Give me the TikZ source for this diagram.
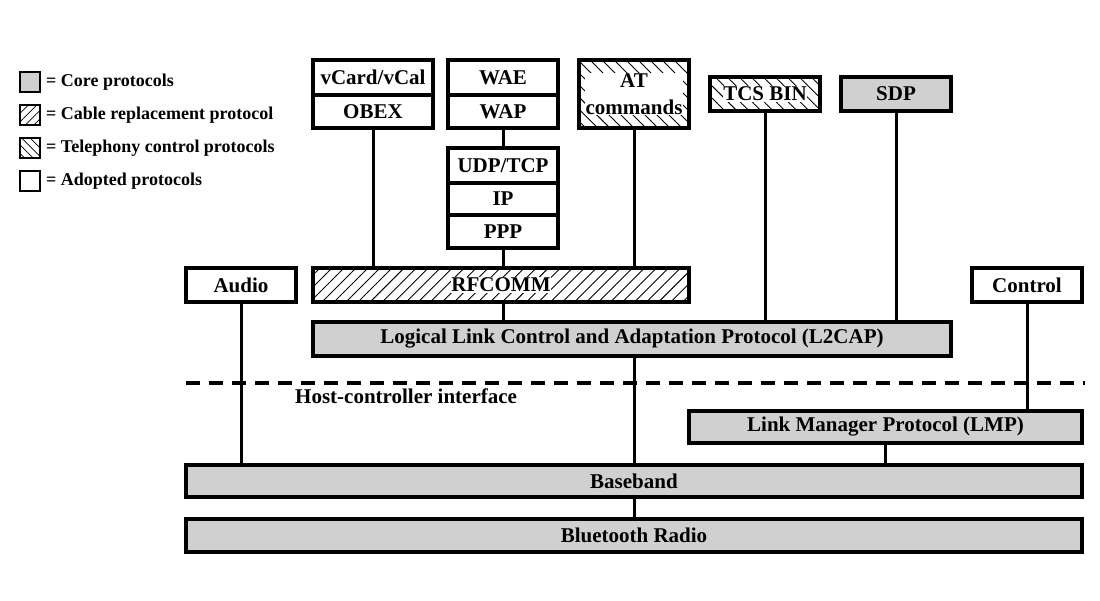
\documentclass[tikz,border=0pt]{standalone}
\usepackage{fontspec}
\setmainfont{Liberation Serif}
\usetikzlibrary{patterns.meta}
\definecolor{coregray}{HTML}{D0D0D0}
\begin{document}
\begin{tikzpicture}[x=1pt,y=-1pt,
  box/.style={draw, line width=3.2pt, inner sep=0pt, font=\fontsize{21}{22}\selectfont\bfseries, align=center},
  core/.style={box, fill=coregray},
  cable/.style={box, pattern={Lines[angle=45, distance=8.5pt, line width=0.9pt]}},
  tele/.style={box, pattern={Lines[angle=-45, distance=8.5pt, line width=0.9pt]}},
  lbl/.style={fill=white, inner sep=0.5pt},
  conn/.style={line width=3pt},
  legbox/.style={draw, line width=1.4pt, minimum width=20pt, minimum height=20pt, inner sep=0pt},
  legtxt/.style={anchor=west, font=\fontsize{18}{19}\selectfont\bfseries, inner sep=0pt},
  hci/.style={line width=3.5pt, dash pattern=on 14pt off 9pt}
]
\useasboundingbox (0,0) rectangle (1100,600);

% legend
\node[legbox, fill=coregray] (lg1) at (30,82) {};
\node[legtxt] (lt1) at (46,82) {= Core protocols};
\node[legbox, pattern={Lines[angle=45, distance=6pt, line width=0.7pt]}] (lg2) at (30,115) {};
\node[legtxt] (lt2) at (46,115) {= Cable replacement protocol};
\node[legbox, pattern={Lines[angle=-45, distance=6pt, line width=0.7pt]}] (lg3) at (30,148) {};
\node[legtxt] (lt3) at (46,148) {= Telephony control protocols};
\node[legbox] (lg4) at (30,181) {};
\node[legtxt] (lt4) at (46,181) {= Adopted protocols};

% top stacks
\node[box, minimum width=120pt, minimum height=35pt] (vcard) at (373,77.5) {vCard/vCal};
\node[box, minimum width=120pt, minimum height=33pt] (obex) at (373,111.5) {OBEX};
\node[box, minimum width=110pt, minimum height=35pt] (wae) at (503,77.5) {WAE};
\node[box, minimum width=110pt, minimum height=33pt] (wap) at (503,111.5) {WAP};
\node[tele, minimum width=110pt, minimum height=68pt] (at) at (634,94) {};
\node[lbl, font=\fontsize{21}{27}\selectfont\bfseries, align=center] (attxt) at (at.center) {AT\\commands};
\node[tele, minimum width=110pt, minimum height=34pt] (tcs) at (765,94) {};
\node[lbl, font=\fontsize{21}{22}\selectfont\bfseries] (tcstxt) at (tcs.center) {TCS BIN};
\node[core, minimum width=110pt, minimum height=34pt] (sdp) at (896,94) {SDP};

\node[box, minimum width=110pt, minimum height=35pt] (udp) at (503,165.5) {UDP/TCP};
\node[box, minimum width=110pt, minimum height=32pt] (ip) at (503,199) {IP};
\node[box, minimum width=110pt, minimum height=33pt] (ppp) at (503,231.5) {PPP};

% middle row
\node[box, minimum width=110pt, minimum height=34pt] (audio) at (241,285) {Audio};
\node[cable, minimum width=376pt, minimum height=34pt] (rfcomm) at (501,285) {};
\node[lbl, font=\fontsize{21}{22}\selectfont\bfseries] (rftxt) at (rfcomm.center) {RFCOMM};
\node[box, minimum width=110pt, minimum height=34pt] (control) at (1027,285) {Control};
\node[core, minimum width=638pt, minimum height=34pt] (l2cap) at (632,339) {Logical Link Control and Adaptation Protocol (L2CAP)};

% HCI
\coordinate (hciL) at (186,383);
\coordinate (hciR) at (1085,383);
\draw[hci] (hciL) -- (hciR);
\node[anchor=west, inner sep=0pt, font=\fontsize{21}{22}\selectfont\bfseries] (hcitxt) at (295,396) {Host-controller interface};

% lower
\node[core, minimum width=393pt, minimum height=32pt] (lmp) at (885.5,427) {Link Manager Protocol (LMP)};
\node[core, minimum width=896pt, minimum height=32pt] (base) at (634,481) {Baseband};
\node[core, minimum width=896pt, minimum height=33pt] (radio) at (634,535.5) {Bluetooth Radio};

% connectors
\draw[conn] (obex.south) -- (obex.south |- rfcomm.north);
\draw[conn] (wap.south -| ppp) -- (udp.north);
\draw[conn] (ppp.south) -- (ppp.south |- rfcomm.north);
\draw[conn] (at.south) -- (at.south |- rfcomm.north);
\draw[conn] (tcs.south) -- (tcs.south |- l2cap.north);
\draw[conn] (sdp.south) -- (sdp.south |- l2cap.north);
\draw[conn] (rfcomm.south -| ppp) -- (ppp |- l2cap.north);
\draw[conn] (audio.south) -- (audio.south |- base.north);
\draw[conn] (l2cap.south -| at) -- (at |- base.north);
\draw[conn] (control.south) -- (control.south |- lmp.north);
\draw[conn] (lmp.south) -- (lmp.south |- base.north);
\draw[conn] (base.south -| at) -- (at |- radio.north);
\end{tikzpicture}
\end{document}
